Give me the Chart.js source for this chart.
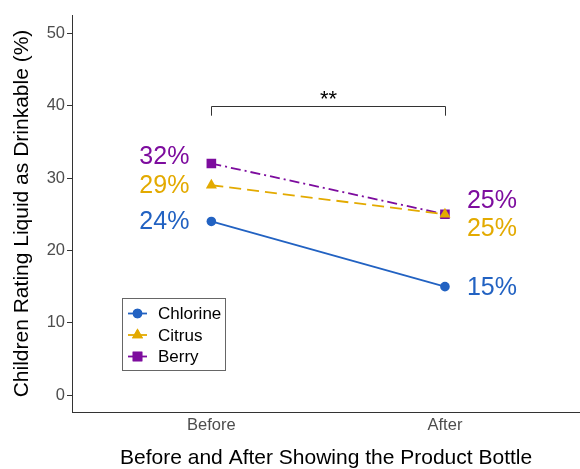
<!DOCTYPE html>
<html>
<head>
<meta charset="utf-8">
<script src="https://cdn.jsdelivr.net/npm/chart.js@4/dist/chart.umd.min.js"></script>
<style>
  html, body { margin: 0; padding: 0; background: #fff; overflow: hidden; }
  #wrap { width: 580px; height: 469px; overflow: hidden; }
</style>
</head>
<body>
<div id="wrap"><canvas id="c" width="587" height="469"></canvas></div>
<script>
// Share of children rating the liquid as drinkable, before and after seeing the bottle
const categories = ['Before', 'After'];
const seriesNames = ['Chlorine', 'Citrus', 'Berry'];
const chlorine = [24, 15];
const citrus = [29, 25];
const berry = [32, 25];
const yTicks = [0, 10, 20, 30, 40, 50];
const sigLabel = '**';
const sigLevel = 40;

const FONT = "'Liberation Sans', Arial, Helvetica, sans-serif";
const colors = ['#2262C2', '#E3AA00', '#7D0C9E'];

const toPoints = vals => vals.map((v, i) => ({ x: i + 1, y: v }));

// percentage labels beside each point
const pctLabels = {
  id: 'pctLabels',
  afterDatasetsDraw(chart, args, opts) {
    const ctx = chart.ctx, xs = chart.scales.x, ys = chart.scales.y;
    ctx.save();
    ctx.font = opts.size + 'px ' + FONT;
    ctx.textBaseline = 'middle';
    chart.data.datasets.forEach((ds, di) => {
      ds.data.forEach((p, i) => {
        const left = i === 0;
        ctx.textAlign = left ? 'right' : 'left';
        ctx.fillStyle = ds.borderColor;
        const px = xs.getPixelForValue(p.x) + (left ? -opts.gap[0] : opts.gap[1]);
        const py = ys.getPixelForValue(p.y) + opts.nudge[di][i];
        ctx.fillText(p.y + '%', px, py);
      });
    });
    ctx.restore();
  }
};

// significance bracket between the two time points
const sigBracket = {
  id: 'sigBracket',
  afterDatasetsDraw(chart, args, opts) {
    const ctx = chart.ctx, xs = chart.scales.x, ys = chart.scales.y;
    const x1 = Math.round(xs.getPixelForValue(1)) + 0.5, x2 = Math.round(xs.getPixelForValue(2)) + 0.5;
    const yTop = Math.round(ys.getPixelForValue(opts.level)) + 0.5;
    const yEnd = ys.getPixelForValue(opts.level - opts.drop);
    ctx.save();
    ctx.strokeStyle = '#333';
    ctx.lineWidth = 1;
    ctx.beginPath();
    ctx.moveTo(x1, yEnd); ctx.lineTo(x1, yTop); ctx.lineTo(x2, yTop); ctx.lineTo(x2, yEnd);
    ctx.stroke();
    ctx.fillStyle = '#000';
    ctx.font = opts.size + 'px ' + FONT;
    ctx.textAlign = 'center';
    ctx.textBaseline = 'alphabetic';
    ctx.fillText(opts.text, (x1 + x2) / 2, yTop + opts.offset);
    ctx.restore();
  }
};

// boxed legend inside the plotting area
const boxLegend = {
  id: 'boxLegend',
  afterDatasetsDraw(chart, args, opts) {
    const ctx = chart.ctx;
    ctx.save();
    ctx.fillStyle = '#fff';
    ctx.fillRect(opts.x, opts.y, opts.w, opts.h);
    ctx.strokeStyle = '#666';
    ctx.lineWidth = 1;
    ctx.strokeRect(opts.x + 0.5, opts.y + 0.5, opts.w, opts.h);
    ctx.font = opts.size + 'px ' + FONT;
    ctx.textBaseline = 'middle';
    ctx.textAlign = 'left';
    chart.data.datasets.forEach((ds, i) => {
      const cy = opts.y + opts.first + i * opts.step;
      ctx.strokeStyle = ds.borderColor;
      ctx.lineWidth = 1.8;
      ctx.setLineDash([]);
      ctx.beginPath();
      ctx.moveTo(opts.x + 6, cy); ctx.lineTo(opts.x + 25, cy);
      ctx.stroke();
      ctx.fillStyle = ds.borderColor;
      Chart.helpers.drawPoint(ctx, {
        pointStyle: ds.pointStyle, radius: ds.pointRadius, borderWidth: 0, rotation: 0
      }, opts.x + 15.5, cy);
      ctx.fill();
      ctx.fillStyle = '#000';
      ctx.fillText(ds.label, opts.x + 36, cy + 1);
    });
    ctx.restore();
  }
};

const series = [chlorine, citrus, berry];
const pointStyles = ['circle', 'triangle', 'rect'];
const radii = [4.8, 6.4, 6.8];
const dashes = [[], [12, 6], [10, 4, 2, 4]];

new Chart(document.getElementById('c'), {
  type: 'line',
  data: {
    datasets: series.map((vals, i) => ({
      label: seriesNames[i],
      data: toPoints(vals),
      borderColor: colors[i],
      backgroundColor: colors[i],
      pointBackgroundColor: colors[i],
      pointBorderWidth: 0,
      borderWidth: 1.8,
      borderDash: dashes[i],
      pointStyle: pointStyles[i],
      pointRadius: radii[i],
      tension: 0
    }))
  },
  options: {
    responsive: false,
    animation: false,
    devicePixelRatio: 1,
    layout: { padding: { top: 15, right: 0, left: 0, bottom: 0 } },
    plugins: {
      legend: { display: false },
      tooltip: { enabled: false },
      pctLabels: { size: 25, gap: [22, 22], nudge: [[0.5, 1], [1, 15], [-6.5, -13]] },
      sigBracket: { level: sigLevel, drop: 1.4, text: sigLabel, size: 22, offset: -1 },
      boxLegend: { x: 122, y: 298, w: 103, h: 72, first: 15.5, step: 21.5, size: 17 }
    },
    scales: {
      x: {
        type: 'linear',
        min: 0.4034,
        max: 2.579,
        afterBuildTicks: s => { s.ticks = categories.map((c, i) => ({ value: i + 1 })); },
        grid: { display: false, drawTicks: false, tickLength: 0 },
        border: { display: true, color: '#333', width: 1 },
        ticks: {
          color: '#4D4D4D',
          font: { family: FONT, size: 16.5 },
          padding: 4,
          maxRotation: 0,
          callback: v => categories[v - 1]
        },
        title: {
          display: true,
          text: 'Before and After Showing the Product Bottle',
          color: '#000',
          font: { family: FONT, size: 21, lineHeight: 1 },
          padding: { top: 0, bottom: 0 }
        },
        afterFit: s => { s.height = 57; }
      },
      y: {
        type: 'linear',
        min: -2.3,
        max: 52.5,
        afterBuildTicks: s => { s.ticks = yTicks.map(v => ({ value: v })); },
        grid: { drawOnChartArea: false, drawTicks: true, tickLength: 5, color: '#333' },
        border: { display: true, color: '#333', width: 1 },
        ticks: {
          color: '#4D4D4D',
          font: { family: FONT, size: 16.5 },
          padding: 2
        },
        title: {
          display: true,
          text: 'Children Rating Liquid as Drinkable (%)',
          color: '#000',
          font: { family: FONT, size: 21 },
          padding: { top: 10, bottom: 0 }
        },
        afterFit: s => { s.width = 72; }
      }
    }
  },
  plugins: [pctLabels, sigBracket, boxLegend]
});
</script>
</body>
</html>
